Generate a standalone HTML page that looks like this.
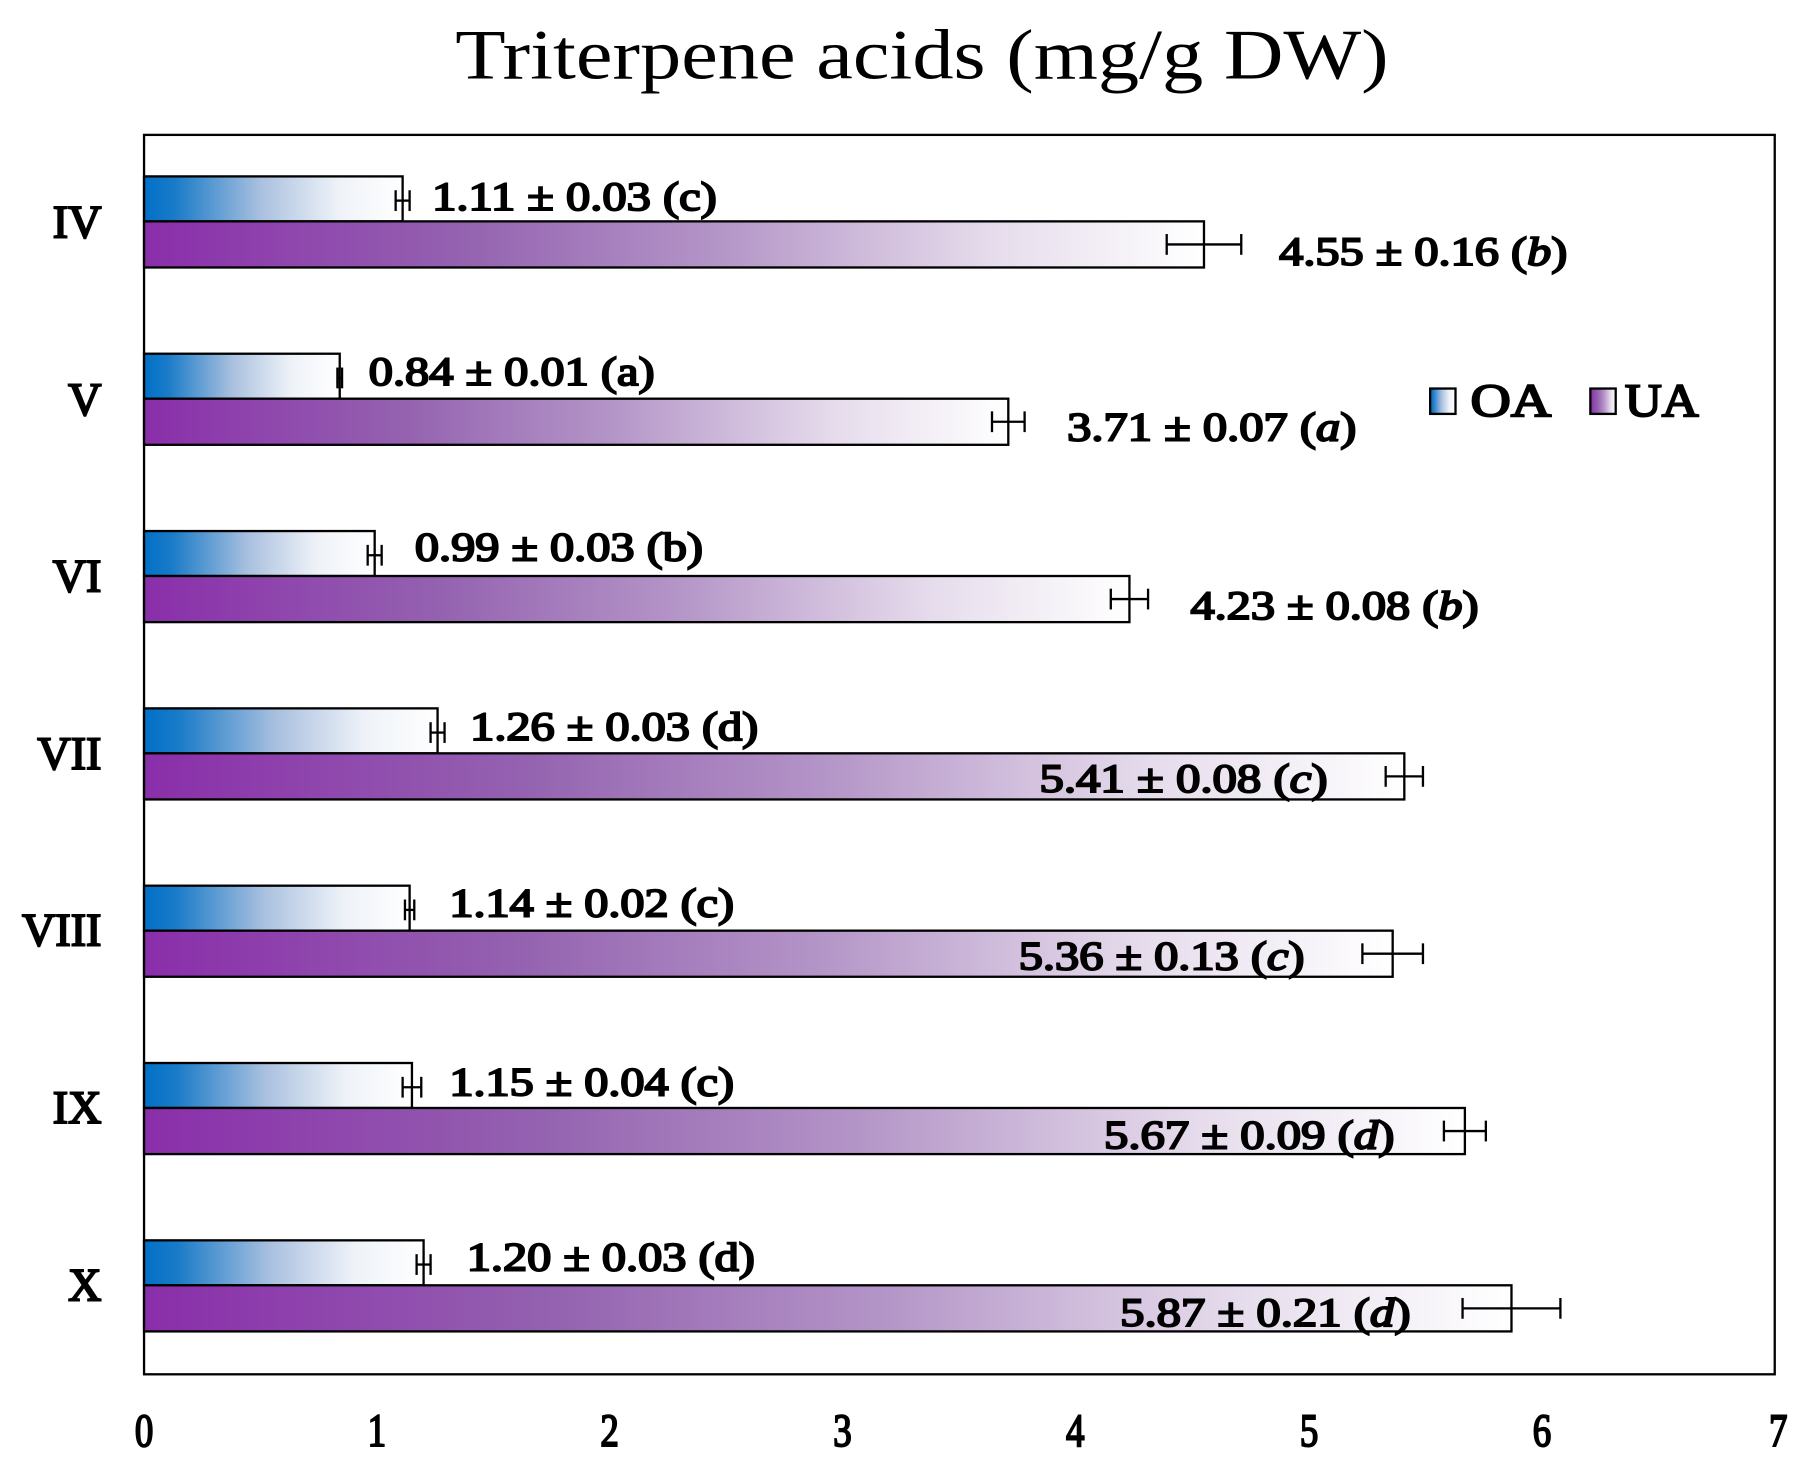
<!DOCTYPE html>
<html><head><meta charset="utf-8"><style>
html,body{margin:0;padding:0;background:#fff}
svg{display:block}
text{font-family:"Liberation Serif","Times New Roman",serif;fill:#000}
.b{font-weight:normal;stroke:#000;stroke-width:1.7}
</style></head><body>
<svg width="1807" height="1470" viewBox="0 0 1568 1275" preserveAspectRatio="none">
<defs>
<linearGradient id="oa" x1="0" x2="1" y1="0" y2="0">
<stop offset="0" stop-color="#0070c8"/><stop offset="0.12" stop-color="#1a7bc8"/><stop offset="0.45" stop-color="#a9c0df"/><stop offset="0.75" stop-color="#eef2f8"/><stop offset="1" stop-color="#ffffff"/>
</linearGradient>
<linearGradient id="ua" x1="0" x2="1" y1="0" y2="0">
<stop offset="0" stop-color="#8a2eaa"/><stop offset="0.3" stop-color="#9462b0"/><stop offset="0.55" stop-color="#b597c8"/><stop offset="0.8" stop-color="#e6dcec"/><stop offset="1" stop-color="#ffffff"/>
</linearGradient>
</defs>
<text x="800" y="68" font-size="62" text-anchor="middle" textLength="810" lengthAdjust="spacingAndGlyphs">Triterpene  acids (mg/g DW)</text>
<rect x="125" y="117" width="1415" height="1075" fill="none" stroke="#000" stroke-width="2"/>
<g class="b" font-size="40" text-anchor="middle">
<text x="125" y="1254" textLength="16" lengthAdjust="spacingAndGlyphs">0</text><text x="327" y="1254" textLength="16" lengthAdjust="spacingAndGlyphs">1</text><text x="529" y="1254" textLength="16" lengthAdjust="spacingAndGlyphs">2</text><text x="731" y="1254" textLength="16" lengthAdjust="spacingAndGlyphs">3</text><text x="933" y="1254" textLength="16" lengthAdjust="spacingAndGlyphs">4</text><text x="1136" y="1254" textLength="16" lengthAdjust="spacingAndGlyphs">5</text><text x="1338" y="1254" textLength="16" lengthAdjust="spacingAndGlyphs">6</text><text x="1543" y="1254" textLength="16" lengthAdjust="spacingAndGlyphs">7</text>
</g>
<g id="bars" stroke="#000" stroke-width="2"></g>
<g class="b" font-size="40" text-anchor="end">
<text x="88" y="206">IV</text><text x="88" y="360">V</text><text x="88" y="513">VI</text><text x="88" y="667">VII</text><text x="88" y="820">VIII</text><text x="88" y="974">IX</text><text x="88" y="1128">X</text>
</g>
<g class="b" font-size="35">
<text x="375" y="182" textLength="247" lengthAdjust="spacingAndGlyphs">1.11 ± 0.03 (c)</text>
<text x="1110" y="230" textLength="250" lengthAdjust="spacingAndGlyphs">4.55 ± 0.16 (<tspan font-style="italic">b</tspan>)</text>
<text x="320" y="334" textLength="248" lengthAdjust="spacingAndGlyphs">0.84 ± 0.01 (a)</text>
<text x="926" y="382" textLength="251" lengthAdjust="spacingAndGlyphs">3.71 ± 0.07 (<tspan font-style="italic">a</tspan>)</text>
<text x="360" y="486" textLength="250" lengthAdjust="spacingAndGlyphs">0.99 ± 0.03 (b)</text>
<text x="1033" y="537" textLength="250" lengthAdjust="spacingAndGlyphs">4.23 ± 0.08 (<tspan font-style="italic">b</tspan>)</text>
<text x="408" y="642" textLength="250" lengthAdjust="spacingAndGlyphs">1.26 ± 0.03 (d)</text>
<text x="902" y="687" textLength="250" lengthAdjust="spacingAndGlyphs">5.41 ± 0.08 (<tspan font-style="italic">c</tspan>)</text>
<text x="390" y="795" textLength="247" lengthAdjust="spacingAndGlyphs">1.14 ± 0.02 (c)</text>
<text x="884" y="841" textLength="248" lengthAdjust="spacingAndGlyphs">5.36 ± 0.13 (<tspan font-style="italic">c</tspan>)</text>
<text x="390" y="950" textLength="247" lengthAdjust="spacingAndGlyphs">1.15 ± 0.04 (c)</text>
<text x="958" y="996" textLength="252" lengthAdjust="spacingAndGlyphs">5.67 ± 0.09 (<tspan font-style="italic">d</tspan>)</text>
<text x="405" y="1102" textLength="250" lengthAdjust="spacingAndGlyphs">1.20 ± 0.03 (d)</text>
<text x="972" y="1150" textLength="252" lengthAdjust="spacingAndGlyphs">5.87 ± 0.21 (<tspan font-style="italic">d</tspan>)</text>
</g>
<rect x="1241" y="337" width="22" height="22" fill="url(#oa)" stroke="#000" stroke-width="2"/>
<rect x="1380" y="337" width="22" height="22" fill="url(#ua)" stroke="#000" stroke-width="2"/>
<g class="b" font-size="40"><text x="1276" y="361" textLength="70" lengthAdjust="spacingAndGlyphs">OA</text><text x="1410" y="361" textLength="64" lengthAdjust="spacingAndGlyphs">UA</text></g>
</svg>
<script>
(function(){
var d=[[1.11,.03,4.55,.16],[.84,.01,3.71,.07],[.99,.03,4.23,.08],[1.26,.03,5.41,.08],[1.14,.02,5.36,.13],[1.15,.04,5.67,.09],[1.20,.03,5.87,.21]];
var s=202.14,x0=125,g=document.getElementById('bars'),h='';
d.forEach(function(r,i){var y=153+i*153.8;
var w1=r[0]*s,w2=r[2]*s;
h+='<rect x="'+x0+'" y="'+y+'" width="'+w1+'" height="39" fill="url(#oa)"/>';
h+='<rect x="'+x0+'" y="'+(y+39)+'" width="'+w2+'" height="40" fill="url(#ua)"/>';
function eb(cx,e,cy){var a=cx-e*s,b=cx+e*s;if(b-a<4){a=cx-2;b=cx+2;}
return '<line x1="'+a+'" x2="'+b+'" y1="'+cy+'" y2="'+cy+'"/><line x1="'+a+'" x2="'+a+'" y1="'+(cy-9)+'" y2="'+(cy+9)+'"/><line x1="'+b+'" x2="'+b+'" y1="'+(cy-9)+'" y2="'+(cy+9)+'"/>';}
h+=eb(x0+w1,r[1],y+21);h+=eb(x0+w2,r[3],y+59);
});
g.innerHTML=h;
})();
</script>
</body></html>
